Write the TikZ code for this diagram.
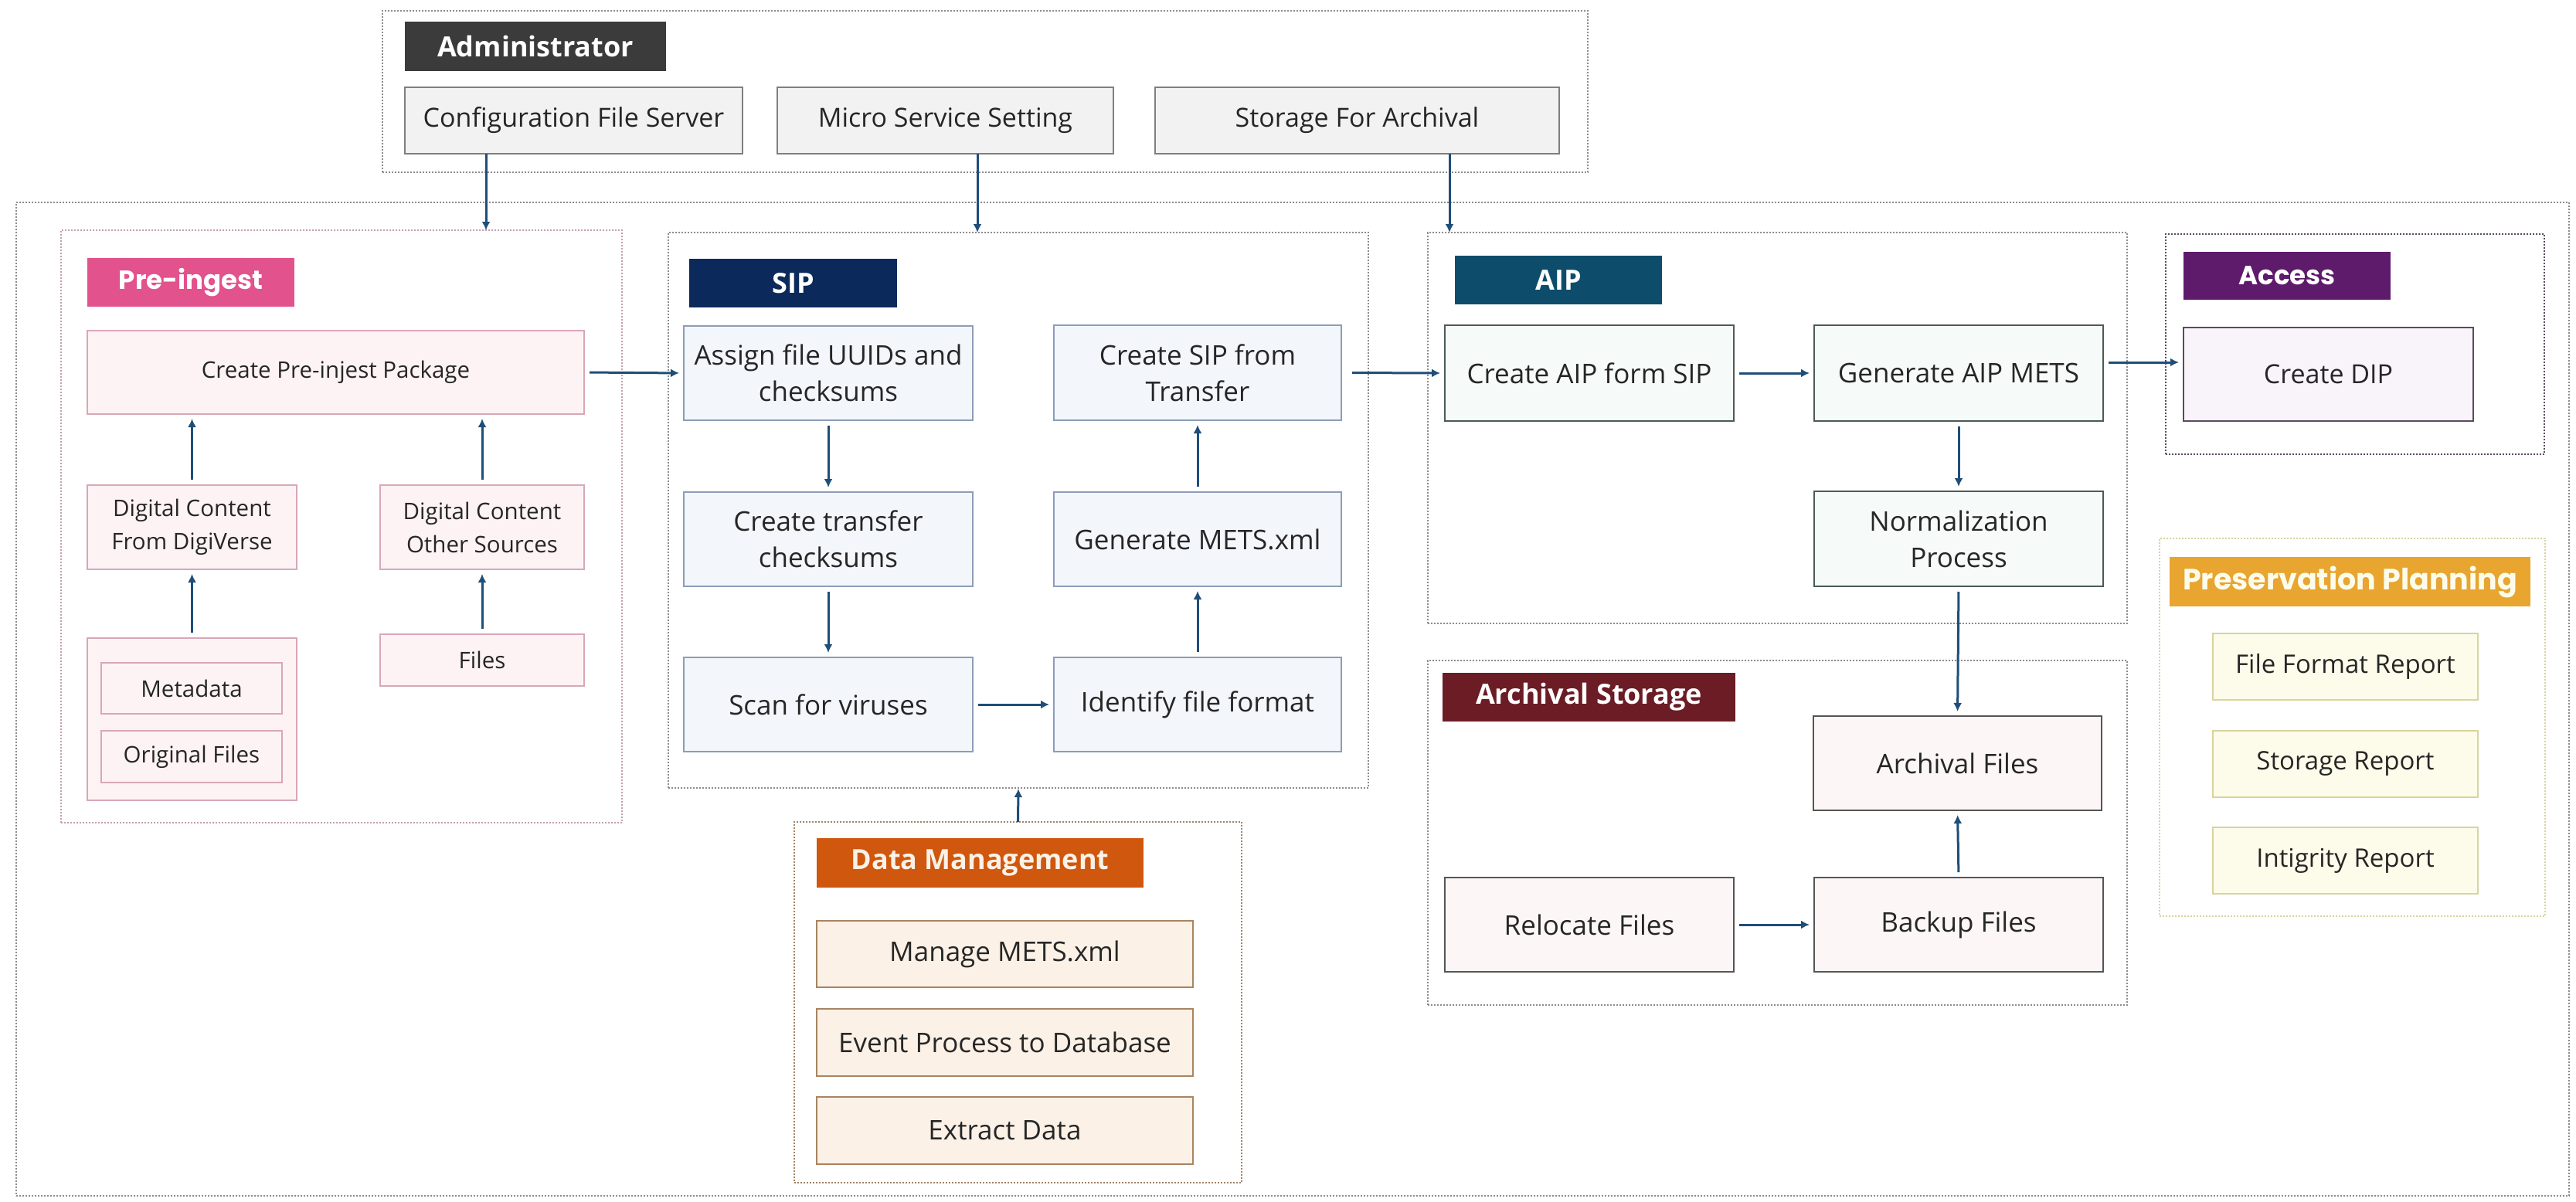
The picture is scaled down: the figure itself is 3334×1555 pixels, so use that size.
\documentclass[tikz,border=0pt]{standalone}
\usepackage{fontspec}
\setmainfont{Open Sans}
\newfontfamily\popfont{Poppins}
\usetikzlibrary{arrows.meta,calc}
\definecolor{arrowc}{HTML}{1F4E79}
\definecolor{txt}{HTML}{262626}
\definecolor{adminL}{HTML}{3B3B3B}\definecolor{adminF}{HTML}{F2F2F2}\definecolor{adminD}{HTML}{7F7F7F}
\definecolor{preL}{HTML}{E2528C}\definecolor{preF}{HTML}{FDF3F5}\definecolor{preD}{HTML}{D8A7B8}
\definecolor{sipL}{HTML}{0B2A5B}\definecolor{sipF}{HTML}{F3F6FB}\definecolor{sipD}{HTML}{8C9DB8}
\definecolor{dmL}{HTML}{CF570E}\definecolor{dmF}{HTML}{FCF1E6}\definecolor{dmD}{HTML}{A98460}
\definecolor{aipL}{HTML}{0D4D6B}\definecolor{aipF}{HTML}{F6FAF8}\definecolor{aipD}{HTML}{4B5B55}
\definecolor{asL}{HTML}{6B1C24}\definecolor{asF}{HTML}{FDF6F6}\definecolor{asD}{HTML}{555555}
\definecolor{acL}{HTML}{5E1A6B}\definecolor{acF}{HTML}{F9F4FA}\definecolor{acD}{HTML}{5A4A60}
\definecolor{ppL}{HTML}{E8A530}\definecolor{ppF}{HTML}{FDFCEB}\definecolor{ppD}{HTML}{D8D3A0}
\definecolor{frameD}{HTML}{8C8C8C}
\newcommand\mkbox[7]{\node[#1, minimum width=#5pt-#3pt, minimum height=#6pt-#4pt] (#2) at ({(#3+#5)/2},{(#4+#6)/2}) {#7};}
\begin{document}
\begin{tikzpicture}[x=1pt,y=-1pt,
  every node/.style={inner sep=0pt, outer sep=0pt, align=center, text=txt},
  frame/.style={draw=frameD, line width=2pt, dash pattern=on 2pt off 2pt},
  bodytext/.style={font=\fontsize{35}{47}\selectfont},
  admintext/.style={font=\fontsize{34}{46}\selectfont},
  smalltext/.style={font=\fontsize{29.5}{43}\selectfont},
  lab/.style={text=white, font=\fontsize{36}{40}\selectfont\bfseries},
  poplab/.style={text=white, font=\popfont\fontsize{34}{40}\selectfont\bfseries},
  adminbox/.style={admintext, fill=adminF, draw=adminD, line width=2.5pt},
  prebox/.style={smalltext, fill=preF, draw=preD, line width=2.5pt},
  sipbox/.style={bodytext, fill=sipF, draw=sipD, line width=2.5pt},
  dmbox/.style={bodytext, fill=dmF, draw=dmD, line width=2.5pt},
  aipbox/.style={bodytext, fill=aipF, draw=aipD, line width=2.5pt},
  asbox/.style={bodytext, fill=asF, draw=asD, line width=2.5pt},
  acbox/.style={admintext, fill=acF, draw=acD, line width=2.5pt},
  ppbox/.style={font=\fontsize{33}{45}\selectfont, fill=ppF, draw=ppD, line width=2.5pt},
  arr/.style={draw=arrowc, line width=3pt, -{Latex[length=11pt,width=11pt]}},
  gap/.style={shorten <=7pt, shorten >=6pt}
]
\fill[white] (0,0) rectangle (3334,1555);
\useasboundingbox (0,0) rectangle (3334,1555);

% frames
\mkbox{frame}{adminframe}{495}{14}{2055}{223}{}
\mkbox{frame}{mainframe}{21}{262}{3325}{1548}{}
\mkbox{frame, draw=preD!80!gray}{preframe}{79}{298}{805}{1065}{}
\mkbox{frame}{sipframe}{865}{301}{1771}{1020}{}
\mkbox{frame, draw=dmD!80!gray}{dmframe}{1028}{1064}{1607}{1531}{}
\mkbox{frame}{aipframe}{1848}{301}{2753}{807}{}
\mkbox{frame}{asframe}{1848}{855}{2753}{1301}{}
\mkbox{frame, draw=acD}{acframe}{2803}{303}{3293}{588}{}
\mkbox{frame, draw=ppD}{ppframe}{2795}{697}{3294}{1186}{}

% Administrator
\mkbox{lab, fill=adminL}{adminlab}{524}{28}{862}{92}{Administrator}
\mkbox{adminbox}{config}{524}{113}{961}{199}{Configuration File Server}
\mkbox{adminbox}{micro}{1006}{113}{1441}{199}{Micro Service Setting}
\mkbox{adminbox}{storage}{1495}{113}{2018}{199}{Storage For Archival}

% Pre-ingest
\mkbox{poplab, fill=preL}{prelab}{113}{334}{381}{397}{Pre-ingest}
\mkbox{prebox}{createpre}{113}{428}{756}{536}{Create Pre-injest Package}
\mkbox{prebox}{digiverse}{113}{628}{384}{737}{Digital Content\\From DigiVerse}
\mkbox{prebox}{other}{492}{628}{756}{737}{Digital Content\\Other Sources}
\mkbox{prebox}{group}{113}{826}{384}{1036}{}
\mkbox{prebox}{metadata}{131}{858}{365}{924}{Metadata}
\mkbox{prebox}{original}{131}{946}{365}{1013}{Original Files}
\mkbox{prebox}{files}{492}{821}{756}{888}{Files}

% SIP
\mkbox{lab, fill=sipL}{siplab}{892}{335}{1161}{398}{SIP}
\mkbox{sipbox}{assign}{885}{422}{1259}{544}{Assign file UUIDs and\\checksums}
\mkbox{sipbox}{transfer}{885}{637}{1259}{759}{Create transfer\\checksums}
\mkbox{sipbox}{scan}{885}{851}{1259}{973}{Scan for viruses}
\mkbox{sipbox}{createsip}{1364}{421}{1736}{544}{Create SIP from\\Transfer}
\mkbox{sipbox}{genmets}{1364}{637}{1736}{759}{Generate METS.xml}
\mkbox{sipbox}{identify}{1364}{851}{1736}{973}{Identify file format}

% Data Management
\mkbox{lab, fill=dmL, text=dmF}{dmlab}{1057}{1085}{1480}{1149}{Data Management}
\mkbox{dmbox}{manage}{1057}{1192}{1544}{1278}{Manage METS.xml}
\mkbox{dmbox}{event}{1057}{1306}{1544}{1393}{Event Process to Database}
\mkbox{dmbox}{extract}{1057}{1420}{1544}{1507}{Extract Data}

% AIP
\mkbox{lab, fill=aipL}{aiplab}{1883}{331}{2151}{394}{AIP}
\mkbox{aipbox}{createaip}{1870}{421}{2244}{545}{Create AIP form SIP}
\mkbox{aipbox}{genaip}{2348}{421}{2722}{545}{Generate AIP METS}
\mkbox{aipbox}{norm}{2348}{636}{2722}{759}{Normalization\\Process}

% Archival Storage
\mkbox{lab, fill=asL}{aslab}{1867}{871}{2246}{934}{Archival Storage}
\mkbox{asbox}{archfiles}{2347}{927}{2720}{1049}{Archival Files}
\mkbox{asbox}{relocate}{1870}{1136}{2244}{1258}{Relocate Files}
\mkbox{asbox}{backup}{2348}{1136}{2722}{1258}{Backup Files}

% Access
\mkbox{poplab, fill=acL}{aclab}{2826}{326}{3094}{388}{Access}
\mkbox{acbox}{dip}{2826}{424}{3201}{545}{Create DIP}

% Preservation Planning
\mkbox{poplab, fill=ppL, text=ppF, font=\popfont\fontsize{38}{40}\selectfont\bfseries}{pplab}{2808}{721}{3275}{785}{Preservation Planning}
\mkbox{ppbox}{ffr}{2864}{820}{3207}{906}{File Format Report}
\mkbox{ppbox}{sr}{2864}{946}{3207}{1032}{Storage Report}
\mkbox{ppbox}{ir}{2864}{1071}{3207}{1157}{Intigrity Report}

% helper coordinates for off-centre connectors
\coordinate (xa) at (629,0);
\coordinate (xb) at (1265,0);
\coordinate (xc) at (1876,0);
\coordinate (yd) at (0,469);

% connectors
\draw[arr] (xa |- config.south) -- (xa |- preframe.north);
\draw[arr] (xb |- micro.south) -- (xb |- sipframe.north);
\draw[arr] (xc |- storage.south) -- (xc |- aipframe.north);

\draw[arr, gap] (createpre.east) -- (assign.west);
\draw[arr, gap] (digiverse.north) -- (createpre.south -| digiverse.north);
\draw[arr, gap] (other.north) -- (createpre.south -| other.north);
\draw[arr, gap] (group.north) -- (digiverse.south);
\draw[arr, gap] (files.north) -- (other.south);

\draw[arr, gap] (assign.south) -- (transfer.north);
\draw[arr, gap] (transfer.south) -- (scan.north);
\draw[arr, gap] (scan.east) -- (identify.west);
\draw[arr, gap] (identify.north) -- (genmets.south);
\draw[arr, gap] (genmets.north) -- (createsip.south);
\draw[arr, shorten >=1pt] (dmframe.north) -- (sipframe.south);

\draw[arr, gap, shorten <=14pt] (createsip.east) -- (createaip.west);
\draw[arr, gap] (createaip.east) -- (genaip.west);
\draw[arr, gap] (genaip.south) -- (norm.north);
\draw[arr, gap] (genaip.east |- yd) -- (dip.west |- yd);

\draw[arr, gap] (norm.south) -- (archfiles.north);
\draw[arr, gap] (backup.north) -- (archfiles.south);
\draw[arr, gap] (relocate.east) -- (backup.west);
\end{tikzpicture}
\end{document}
